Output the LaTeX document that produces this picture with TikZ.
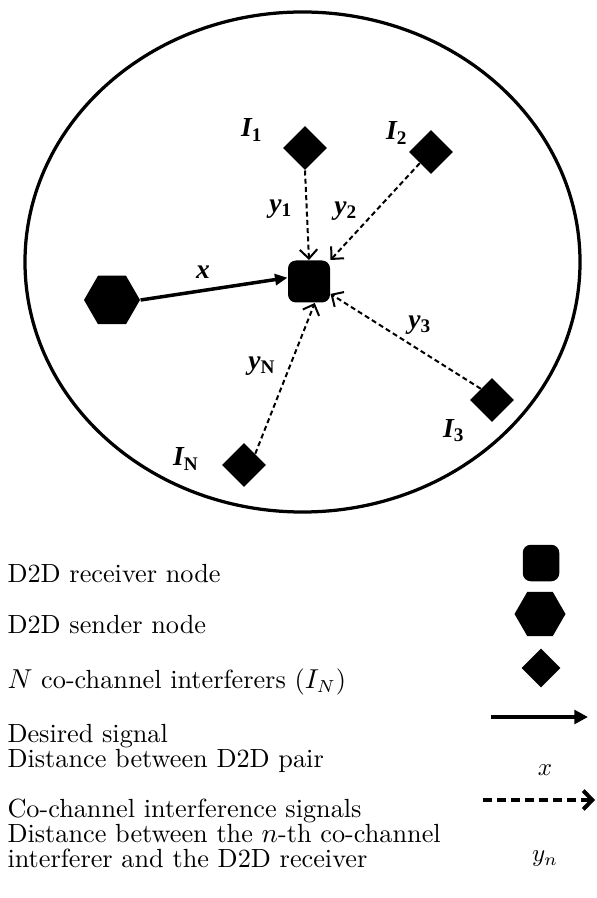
\documentclass[tikz,border=0pt]{standalone}
\usepackage{fontspec}
\newfontfamily\lblfont{Liberation Serif}
\usetikzlibrary{arrows.meta,positioning,shapes.geometric}

\begin{document}
\begin{tikzpicture}[
  x=0.4pt, y=-0.4pt,
  rxnode/.style={rectangle, fill=black, rounded corners=3.2pt,
    minimum size=16.8pt, inner sep=0pt},
  txnode/.style={regular polygon, regular polygon sides=6, fill=black,
    minimum size=22.4pt, inner sep=0pt},
  intf/.style={diamond, fill=black, minimum size=17.6pt, inner sep=0pt},
  lbl/.style={font=\lblfont\fontsize{11}{12}\selectfont\bfseries\itshape,
    inner sep=0pt},
  legtext/.style={anchor=base west, inner sep=0pt,
    font=\fontsize{10.5}{10.5}\selectfont},
  sig/.style={line width=1.4pt, -{Triangle[length=5pt,width=4.4pt]}},
  intsig/.style={line width=0.8pt, dash pattern=on 2pt off 1.3pt,
    -{Straight Barb[length=3.6pt,width=7pt]}},
  legsig/.style={line width=1.8pt, -{Triangle[length=5.5pt,width=5.5pt]}},
  legintsig/.style={line width=1.6pt, dash pattern=on 3.6pt off 2pt,
    -{Straight Barb[length=3.6pt,width=7.5pt]}}
]
\useasboundingbox (0,0) rectangle (597,898);

% Cell
\draw[line width=1.3pt] (302.5,262) ellipse [x radius=111pt, y radius=100pt];

% Nodes
\node[rxnode] (rx) at (309,281.5) {};
\node[txnode] (tx) at (112,300) {};
\node[intf] (I1) at (305,148) {};
\node[intf] (I2) at (431,152) {};
\node[intf] (I3) at (492,400) {};
\node[intf] (IN) at (244,465) {};

% Labels
\node[lbl] (lI1) at (252,130) {I\textsubscript{\upshape 1}};
\node[lbl] (lI2) at (397,133) {I\textsubscript{\upshape 2}};
\node[lbl] (lI3) at (454,431) {I\textsubscript{\upshape 3}};
\node[lbl] (lIN) at (186,459) {I\textsubscript{\upshape N}};
\node[lbl] (ly1) at (281,209) {y\textsubscript{\upshape 1}};
\node[lbl] (ly2) at (346,211) {y\textsubscript{\upshape 2}};
\node[lbl] (ly3) at (420,325) {y\textsubscript{\upshape 3}};
\node[lbl] (lyN) at (262,366) {y\textsubscript{\upshape N}};
\node[lbl] (lx) at (203,272) {x};

% Signals
\draw[sig] (tx.east) -- (rx.170);
\draw[intsig] (I1.south) -- (rx.north);
\draw[intsig] (I2.south west) -- (rx.north east);
\draw[intsig] (I3.north west) -- (rx.-30);
\draw[intsig] (IN.north east) -- (rx.-75);

% Legend
\node[rxnode, minimum size=14.6pt] (legrx) at (541,563) {};
\node[txnode, minimum size=20.4pt] (legtx) at (540,614) {};
\node[intf, minimum size=15.6pt] (legint) at (541,668) {};
\coordinate (sa) at (491,717);
\coordinate (sb) at (588,717);
\draw[legsig] (sa) -- (sb);
\coordinate (ia) at (483,800);
\coordinate (ib) at (595,800);
\draw[legintsig] (ia) -- (ib);

\node[legtext] (trx) at (7,582) {D2D receiver node};
\node[legtext] (ttx) at (7,633) {D2D sender node};
\node[legtext] (tint) at (7,688) {$N$ co-channel interferers ($I_N$)};
\node[legtext] (tsig) at (7,742) {Desired signal};
\node[legtext] (tsig2) at (7,767) {Distance between D2D pair};
\node[legtext] (tisig) at (7,817) {Co-channel interference signals};
\node[legtext] (tisig2) at (7,842) {Distance between the $n$-th co-channel};
\node[legtext] (tisig3) at (7,867) {interferer and the D2D receiver};
\node (legx) at (545,770) {$x$};
\node (legy) at (545,859) {$y_n$};

\end{tikzpicture}
\end{document}
